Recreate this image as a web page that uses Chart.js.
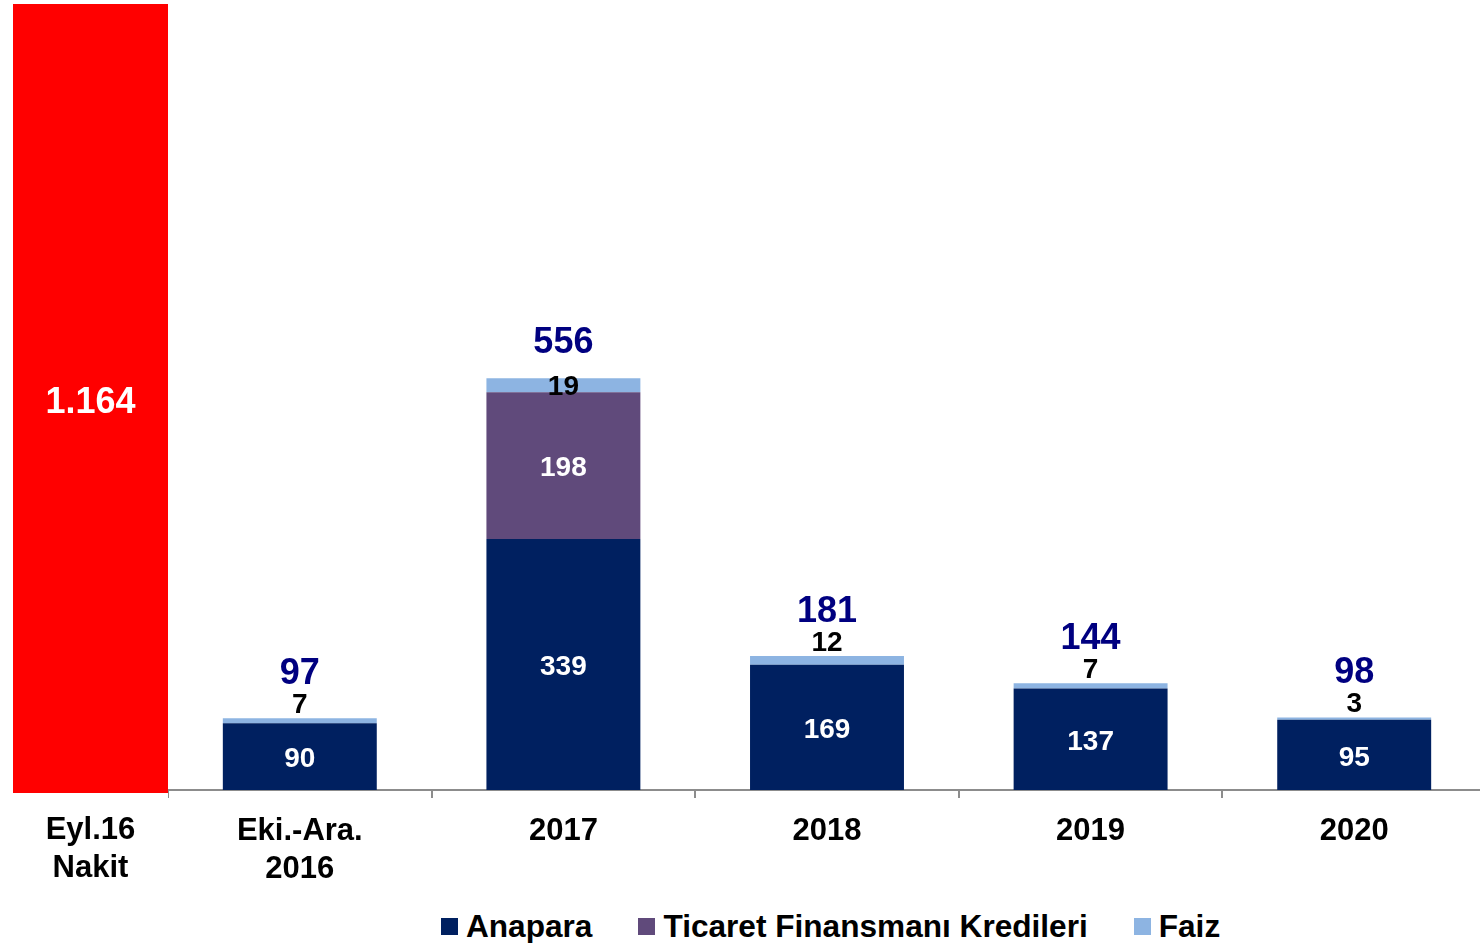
<!DOCTYPE html>
<html>
<head>
<meta charset="utf-8">
<script src="https://cdn.jsdelivr.net/npm/chart.js@4"></script>
<style>
    html, body { margin: 0; padding: 0; background: #fff; overflow: hidden; }
    body { width: 1480px; height: 943px; position: relative; font-family: "Liberation Sans", Arial, sans-serif; }
    #cashBox { position: absolute; left: 0; top: 0; width: 181px; height: 903px; }
    #debtBox { position: absolute; left: 168px; top: 0; width: 1318px; height: 900px; }
    #legend { position: absolute; left: 441px; top: 908px; display: flex; align-items: center; font-weight: bold; font-size: 31.6px; color: #000; white-space: nowrap; }
    #legend .item { display: flex; align-items: center; margin-right: 46px; }
    #legend .swatch { width: 17px; height: 17px; margin-right: 8px; }
</style>
</head>
<body>
<div id="cashBox"><canvas id="cashChart"></canvas></div>
<div id="debtBox"><canvas id="debtChart"></canvas></div>
<div id="legend"></div>

<script>
const family = '"Liberation Sans", Arial, sans-serif';

// cash position
const cashLabels = [['Eyl.16', 'Nakit']];
const cashValues = [1164];

// repayment schedule
const periods = [['Eki.-Ara.', '2016'], '2017', '2018', '2019', '2020'];
const anapara = [90, 339, 169, 137, 95];
const ticaret = [null, 198, null, null, null];
const faiz = [7, 19, 12, 7, 3];

function formatTr(v) {
    return String(v).replace(/\B(?=(\d{3})+(?!\d))/g, '.');
}

const tickFont = { family: family, size: 31, weight: 'bold', lineHeight: 1.22 };

// value printed in the middle of the red bar
const cashLabelPlugin = {
    id: 'cashLabel',
    afterDatasetsDraw(chart) {
        const ctx = chart.ctx;
        ctx.save();
        ctx.font = 'bold 36px ' + family;
        ctx.fillStyle = '#fff';
        ctx.textAlign = 'center';
        ctx.textBaseline = 'middle';
        chart.getDatasetMeta(0).data.forEach((bar, i) => {
            ctx.fillText(formatTr(cashValues[i]), bar.x, (bar.y + bar.base) / 2 + 5);
        });
        ctx.restore();
    }
};

// segment values, faiz above the stack and totals on top
const stackLabels = {
    id: 'stackLabels',
    afterDatasetsDraw(chart) {
        const ctx = chart.ctx;
        ctx.save();
        ctx.textAlign = 'center';
        ctx.textBaseline = 'middle';
        periods.forEach((p, i) => {
            [0, 1].forEach(d => {
                const v = chart.data.datasets[d].data[i];
                if (!v) return;
                const bar = chart.getDatasetMeta(d).data[i];
                ctx.font = 'bold 28px ' + family;
                ctx.fillStyle = '#fff';
                ctx.fillText(v, bar.x, (bar.y + bar.base) / 2 + 3);
            });

            const fz = chart.getDatasetMeta(2).data[i];
            const inside = fz.base - fz.y > 12;
            const fy = inside ? (fz.y + fz.base) / 2 + 2 : fz.y - 13;
            ctx.font = 'bold 28px ' + family;
            ctx.fillStyle = '#000';
            ctx.fillText(faiz[i], fz.x, fy);

            const total = anapara[i] + (ticaret[i] || 0) + faiz[i];
            ctx.font = 'bold 36px ' + family;
            ctx.fillStyle = '#000080';
            ctx.fillText(total, fz.x, inside ? fz.y - 35 : fy - 31);
        });
        ctx.restore();
    }
};

new Chart(document.getElementById('cashChart'), {
    type: 'bar',
    data: {
        labels: cashLabels,
        datasets: [{
            label: 'Nakit',
            data: cashValues,
            backgroundColor: '#FF0000',
            barPercentage: 155 / 181,
            categoryPercentage: 1
        }]
    },
    options: {
        responsive: true,
        maintainAspectRatio: false,
        animation: false,
        layout: { padding: { top: 4, left: 0, right: 0, bottom: 0 } },
        plugins: { legend: { display: false }, tooltip: { enabled: false } },
        scales: {
            x: {
                grid: { display: false },
                border: { display: false },
                ticks: { color: '#000', font: tickFont, padding: 11, maxRotation: 0 },
                afterFit(scale) { scale.height = 110; }
            },
            y: { display: false, min: 0, max: 1164 }
        }
    },
    plugins: [cashLabelPlugin]
});

const debtChart = new Chart(document.getElementById('debtChart'), {
    type: 'bar',
    data: {
        labels: periods,
        datasets: [
            { label: 'Anapara', data: anapara, backgroundColor: '#002060' },
            { label: 'Ticaret Finansmanı Kredileri', data: ticaret, backgroundColor: '#604A7B' },
            { label: 'Faiz', data: faiz, backgroundColor: '#8DB4E2' }
        ]
    },
    options: {
        responsive: true,
        maintainAspectRatio: false,
        animation: false,
        datasets: { bar: { barPercentage: 0.584, categoryPercentage: 1 } },
        layout: { padding: { top: 5, left: 0, right: 0, bottom: 0 } },
        plugins: { legend: { display: false }, tooltip: { enabled: false } },
        scales: {
            x: {
                stacked: true,
                grid: { display: true, drawOnChartArea: false, drawTicks: true, tickLength: 8, color: '#8C8C8C', lineWidth: 2 },
                border: { color: '#8C8C8C', width: 2 },
                ticks: { color: '#000', font: tickFont, padding: 15, maxRotation: 0, autoSkip: false },
                afterFit(scale) { scale.height = 110; }
            },
            y: { stacked: true, display: false, min: 0, max: 1060 }
        }
    },
    plugins: [stackLabels]
});

// legend built from the datasets
const legend = document.getElementById('legend');
debtChart.data.datasets.forEach(ds => {
    const item = document.createElement('div');
    item.className = 'item';
    const sw = document.createElement('span');
    sw.className = 'swatch';
    sw.style.background = ds.backgroundColor;
    const txt = document.createElement('span');
    txt.textContent = ds.label;
    item.appendChild(sw);
    item.appendChild(txt);
    legend.appendChild(item);
});
</script>
</body>
</html>
